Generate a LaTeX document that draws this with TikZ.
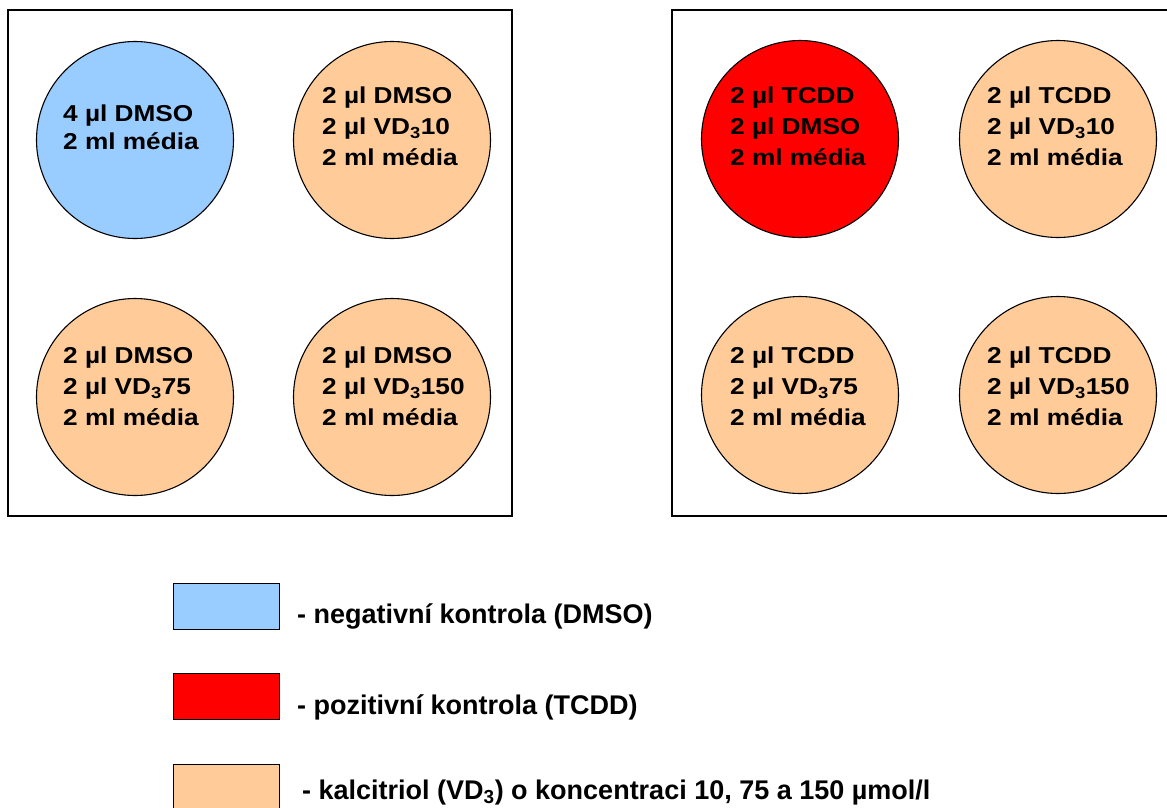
\documentclass[tikz,border=0pt]{standalone}
\usepackage{fontspec}
\setmainfont{Liberation Sans}
\newfontfamily\wellfont[FakeStretch=1.14]{Liberation Sans}
\definecolor{negblue}{HTML}{99CCFF}
\definecolor{posred}{HTML}{FF0000}
\definecolor{vdpeach}{HTML}{FFCC99}
\begin{document}
\begin{tikzpicture}[x=1pt,y=-1pt,
  plate/.style={draw=black, line width=2.2pt},
  well/.style={circle, draw=black, line width=1.1pt, minimum size=197pt, inner sep=0pt},
  welltext/.style={anchor=north west, inner sep=0pt, align=left,
    font=\wellfont\bfseries\fontsize{23}{31}\selectfont},
  key/.style={draw=black, line width=1.3pt, minimum width=106pt, minimum height=46pt,
    inner sep=0pt, anchor=north west},
  keytext/.style={anchor=base west, inner sep=0pt,
    font=\bfseries\fontsize{27}{32}\selectfont}]
\useasboundingbox (0,0) rectangle (1167,807);

% two culture plates
\draw[plate] (8,10) rectangle (512,516);
\draw[plate] (672,10) rectangle (1175,516);

% wells of the first plate
\node[well, fill=negblue] (L1) at (135,140) {};
\node[well, fill=vdpeach] (L2) at (392,140) {};
\node[well, fill=vdpeach] (L3) at (135,397) {};
\node[well, fill=vdpeach] (L4) at (392,397) {};

% wells of the second plate
\node[well, fill=posred]  (R1) at (800,139) {};
\node[well, fill=vdpeach] (R2) at (1058,139) {};
\node[well, fill=vdpeach] (R3) at (800,395) {};
\node[well, fill=vdpeach] (R4) at (1058,395) {};

% well contents
\node[welltext, font=\wellfont\bfseries\fontsize{23}{28}\selectfont] (tL1) at (63,105)
  {4 µl DMSO\\2 ml média};
\node[welltext] (tL2) at (322,87)  {2 µl DMSO\\2 µl VD\textsubscript{3}10\\2 ml média};
\node[welltext] (tL3) at (63,347)  {2 µl DMSO\\2 µl VD\textsubscript{3}75\\2 ml média};
\node[welltext] (tL4) at (322,347) {2 µl DMSO\\2 µl VD\textsubscript{3}150\\2 ml média};
\node[welltext] (tR1) at (730,87)  {2 µl TCDD\\2 µl DMSO\\2 ml média};
\node[welltext] (tR2) at (987,87)  {2 µl TCDD\\2 µl VD\textsubscript{3}10\\2 ml média};
\node[welltext] (tR3) at (730,347) {2 µl TCDD\\2 µl VD\textsubscript{3}75\\2 ml média};
\node[welltext] (tR4) at (987,347) {2 µl TCDD\\2 µl VD\textsubscript{3}150\\2 ml média};

% legend
\node[key, fill=negblue] (k1) at (173,583) {};
\node[key, fill=posred]  (k2) at (173,673) {};
\node[key, fill=vdpeach] (k3) at (173,764) {};
\node[keytext] (l1) at (297,623) {- negativní kontrola (DMSO)};
\node[keytext] (l2) at (297,714) {- pozitivní kontrola (TCDD)};
\node[keytext] (l3) at (302,799) {- kalcitriol (VD\textsubscript{3}) o koncentraci 10, 75 a 150 µmol/l};
\end{tikzpicture}
\end{document}
